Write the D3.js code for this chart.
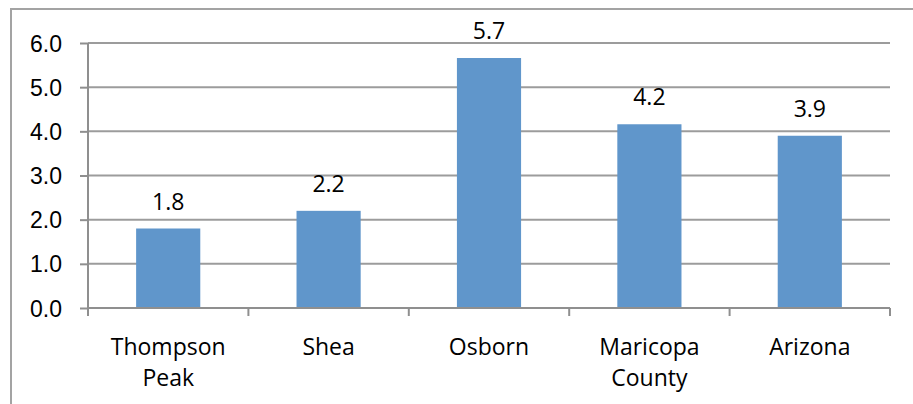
<!DOCTYPE html>
<html>
<head>
<meta charset="utf-8">
<script src="https://cdn.jsdelivr.net/npm/d3@7"></script>
<style>
  html, body { margin: 0; padding: 0; background: #fff; }
  svg { display: block; font-family: "Open Sans", Lato, sans-serif; }
</style>
</head>
<body>
<svg id="chart" width="913" height="404"></svg>
<script>
// chart data
const categories = [["Thompson", "Peak"], ["Shea"], ["Osborn"], ["Maricopa", "County"], ["Arizona"]];
const values = [1.8, 2.2, 5.66, 4.16, 3.9];
const yTicks = [0, 1, 2, 3, 4, 5, 6];

const svg = d3.select("#chart");
const margin = { left: 88, right: 23, top: 43, bottom: 96 };
const width = 913, height = 404;
const fs = 23;

// outer frame, cut off at right and bottom
svg.append("rect")
  .attr("x", 11).attr("y", 9)
  .attr("width", 1000).attr("height", 1000)
  .attr("fill", "none")
  .attr("stroke", "#a3a3a3")
  .attr("stroke-width", 2);

const x = d3.scaleBand()
  .domain(d3.range(categories.length))
  .range([margin.left, width - margin.right])
  .paddingInner(0.6)
  .paddingOuter(0.3);

const y = d3.scaleLinear()
  .domain([0, 6])
  .range([height - margin.bottom, margin.top]);

// gridlines
svg.append("g")
  .selectAll("line")
  .data(yTicks.filter((d) => d > 0))
  .join("line")
  .attr("x1", margin.left).attr("x2", width - margin.right)
  .attr("y1", (d) => y(d)).attr("y2", (d) => y(d))
  .attr("stroke", "#9c9c9c")
  .attr("stroke-width", 2);

// bars
svg.append("g")
  .selectAll("rect")
  .data(values)
  .join("rect")
  .attr("x", (d, i) => x(i))
  .attr("width", x.bandwidth())
  .attr("y", (d) => y(d))
  .attr("height", (d) => y(0) - y(d))
  .attr("fill", "#6096cb");

// value labels
svg.append("g")
  .selectAll("text")
  .data(values)
  .join("text")
  .attr("x", (d, i) => x(i) + x.bandwidth() / 2)
  .attr("y", (d) => y(d) - 19)
  .attr("text-anchor", "middle")
  .attr("font-size", fs)
  .attr("fill", "#000")
  .text((d) => d3.format(".1f")(d));

// y axis
const yAxis = svg.append("g")
  .attr("transform", `translate(${margin.left},0)`)
  .call(d3.axisLeft(y).tickValues(yTicks).tickFormat(d3.format(".1f")).tickSize(8).tickPadding(18));
yAxis.select(".domain").remove();
yAxis.selectAll("line").attr("stroke", "#8f8f8f").attr("stroke-width", 2);
yAxis.selectAll("text").attr("font-size", fs).attr("fill", "#000").attr("font-family", null).attr("dy", "0.35em");
yAxis.append("line")
  .attr("x1", 0).attr("x2", 0)
  .attr("y1", margin.top).attr("y2", y(0) + 8)
  .attr("stroke", "#8f8f8f").attr("stroke-width", 2);

// x axis: ticks at band boundaries
const bounds = d3.range(categories.length + 1).map((i) => margin.left + i * (width - margin.left - margin.right) / categories.length);
const xAxis = svg.append("g");
xAxis.append("line")
  .attr("x1", margin.left).attr("x2", width - margin.right)
  .attr("y1", y(0)).attr("y2", y(0))
  .attr("stroke", "#8f8f8f").attr("stroke-width", 2);
xAxis.selectAll("line.tick")
  .data(bounds)
  .join("line")
  .attr("class", "tick")
  .attr("x1", (d) => d).attr("x2", (d) => d)
  .attr("y1", y(0)).attr("y2", y(0) + 8)
  .attr("stroke", "#8f8f8f").attr("stroke-width", 2);

xAxis.selectAll("text.cat")
  .data(categories)
  .join("text")
  .attr("class", "cat")
  .attr("text-anchor", "middle")
  .attr("font-size", fs)
  .attr("fill", "#000")
  .attr("x", (d, i) => x(i) + x.bandwidth() / 2)
  .attr("y", y(0) + 47)
  .selectAll("tspan")
  .data((d) => d)
  .join("tspan")
  .attr("x", function () { return d3.select(this.parentNode).attr("x"); })
  .attr("dy", (d, i) => (i === 0 ? 0 : 31))
  .text((d) => d);
</script>
</body>
</html>
